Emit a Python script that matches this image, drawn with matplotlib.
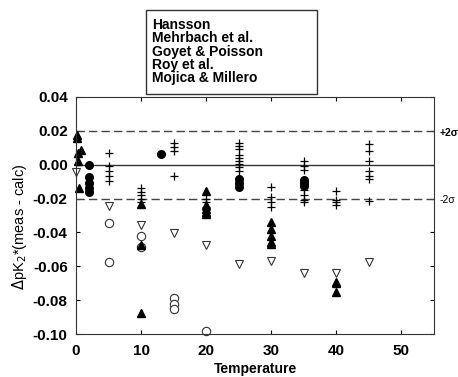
import numpy as np
import matplotlib.pyplot as plt
from matplotlib.patches import Rectangle

plt.rcParams['font.family'] = ['Liberation Sans', 'DejaVu Sans']

# Hansson (filled triangles)
hansson_t = [0.2, 0.2, 0.8, 0.3, 0.3, 0.5, 10, 10, 10,
             20, 20, 20, 20, 20, 30, 30, 30, 30, 30, 40, 40, 40]
hansson_d = [0.0176, 0.0157, 0.0086, 0.0072, 0.002, -0.0137, -0.023, -0.0476, -0.0878,
             -0.0153, -0.024, -0.026, -0.028, -0.029, -0.034, -0.038, -0.042, -0.0457, -0.0466,
             -0.069, -0.070, -0.075]

# Mehrbach et al. (filled circles)
mehrbach_t = [2, 2, 2, 2, 2, 13, 25, 25, 25, 35, 35, 35]
mehrbach_d = [0.0, -0.0075, -0.011, -0.014, -0.016, 0.0063, -0.0084, -0.011, -0.0134,
              -0.009, -0.011, -0.0124]

# Goyet & Poisson (open circles)
goyet_t = [5, 5, 10, 10, 15, 15, 15, 20]
goyet_d = [-0.0345, -0.0575, -0.0424, -0.0486, -0.079, -0.082, -0.085, -0.098]

# Roy et al. (plus)
roy_t = [5, 5, 5, 5, 5,
         10, 10, 10, 10, 10,
         15, 15, 15, 15,
         20, 20, 20, 20,
         25, 25, 25, 25, 25, 25, 25, 25, 25,
         30, 30, 30, 30,
         35, 35, 35, 35, 35, 35, 35, 35,
         40, 40, 40, 40,
         45, 45, 45, 45, 45, 45, 45]
roy_d = [0.0067, -0.0006, -0.0035, -0.0065, -0.0094,
         -0.014, -0.016, -0.018, -0.020, -0.022,
         0.0131, 0.0106, 0.0082, -0.0069,
         -0.020, -0.022, -0.025, -0.027,
         0.013, 0.011, 0.009, 0.006, 0.004, 0.0024, 0.0004, -0.0016, -0.004,
         -0.0134, -0.019, -0.022, -0.025,
         0.002, -0.001, -0.003, -0.012, -0.015, -0.018, -0.021, -0.022,
         -0.0157, -0.0208, -0.022, -0.024,
         0.012, 0.008, 0.0024, -0.0035, -0.0065, -0.0084, -0.0212]

# Mojica & Millero (open down triangles)
mojica_t = [0, 5, 10, 15, 20, 25, 30, 35, 40, 45]
mojica_d = [-0.0041, -0.0241, -0.0359, -0.0404, -0.0476, -0.0584, -0.0569, -0.0637, -0.0637, -0.0575]

labels = ['Hansson', 'Mehrbach et al.', 'Goyet & Poisson', 'Roy et al.', 'Mojica & Millero']

W, H = 458, 377
fig = plt.figure(figsize=(W / 100, H / 100), dpi=100)
ax = fig.add_axes([76 / W, 1 - 334 / H, 358 / W, 237 / H])

ax.axhline(0, color='#333333', lw=1)
ax.axhline(0.02, color='#444444', lw=1, ls=(0, (6, 3)))
ax.axhline(-0.02, color='#444444', lw=1, ls=(0, (6, 3)))

ax.plot(roy_t, roy_d, '+', color='black', ms=6, mew=0.9, ls='none', clip_on=False)
ax.plot(mojica_t, mojica_d, 'v', mfc='white', mec='#333333', ms=6, mew=0.8, ls='none', clip_on=False)
ax.plot(goyet_t, goyet_d, 'o', mfc='white', mec='#333333', ms=6, mew=0.8, ls='none', clip_on=False)
ax.plot(mehrbach_t, mehrbach_d, 'o', color='black', ms=5.5, ls='none', clip_on=False)
ax.plot(hansson_t, hansson_d, '^', color='black', ms=5.5, ls='none', clip_on=False)

ax.set_xlim(0, 55)
ax.set_ylim(-0.10, 0.04)
ax.set_xticks([0, 10, 20, 30, 40, 50])
yt = np.arange(-0.10, 0.041, 0.02)
ax.set_yticks(yt)
ax.set_yticklabels(['%.2f' % v for v in yt])
ax.tick_params(direction='in', top=True, right=True, length=3, width=0.8,
               labelsize=11)
ax.tick_params(axis='y', pad=6)
ax.tick_params(axis='x', pad=7)
for lab in ax.get_xticklabels() + ax.get_yticklabels():
    lab.set_fontweight('bold')
for s in ax.spines.values():
    s.set_color('#333333')

fig.text(256 / W, 1 - 369 / H, 'Temperature', fontsize=10, fontweight='bold',
         ha='center', va='center')
fig.text(20 / W, 1 - 227 / H, r'$\Delta$pK$_2$*(meas - calc)', fontsize=10.5,
         rotation=90, ha='center', va='center')

fig.text(440 / W, 1 - 133 / H, '+2σ', fontsize=7.5, fontweight='bold', va='center', ha='left')
fig.text(440 / W, 1 - 200 / H, '-2σ', fontsize=7.5, va='center', ha='left')

# legend box (text only, as in the original)
fig.patches.append(Rectangle((146 / W, 1 - 94 / H), 171 / W, 84 / H,
                             transform=fig.transFigure, fill=False,
                             edgecolor='#333333', lw=1))
for i, lab in enumerate(labels):
    fig.text(152 / W, 1 - (25 + 13.3 * i) / H, lab, fontsize=10, fontweight='bold',
             ha='left', va='center')

fig.savefig('out.png', dpi=100)
